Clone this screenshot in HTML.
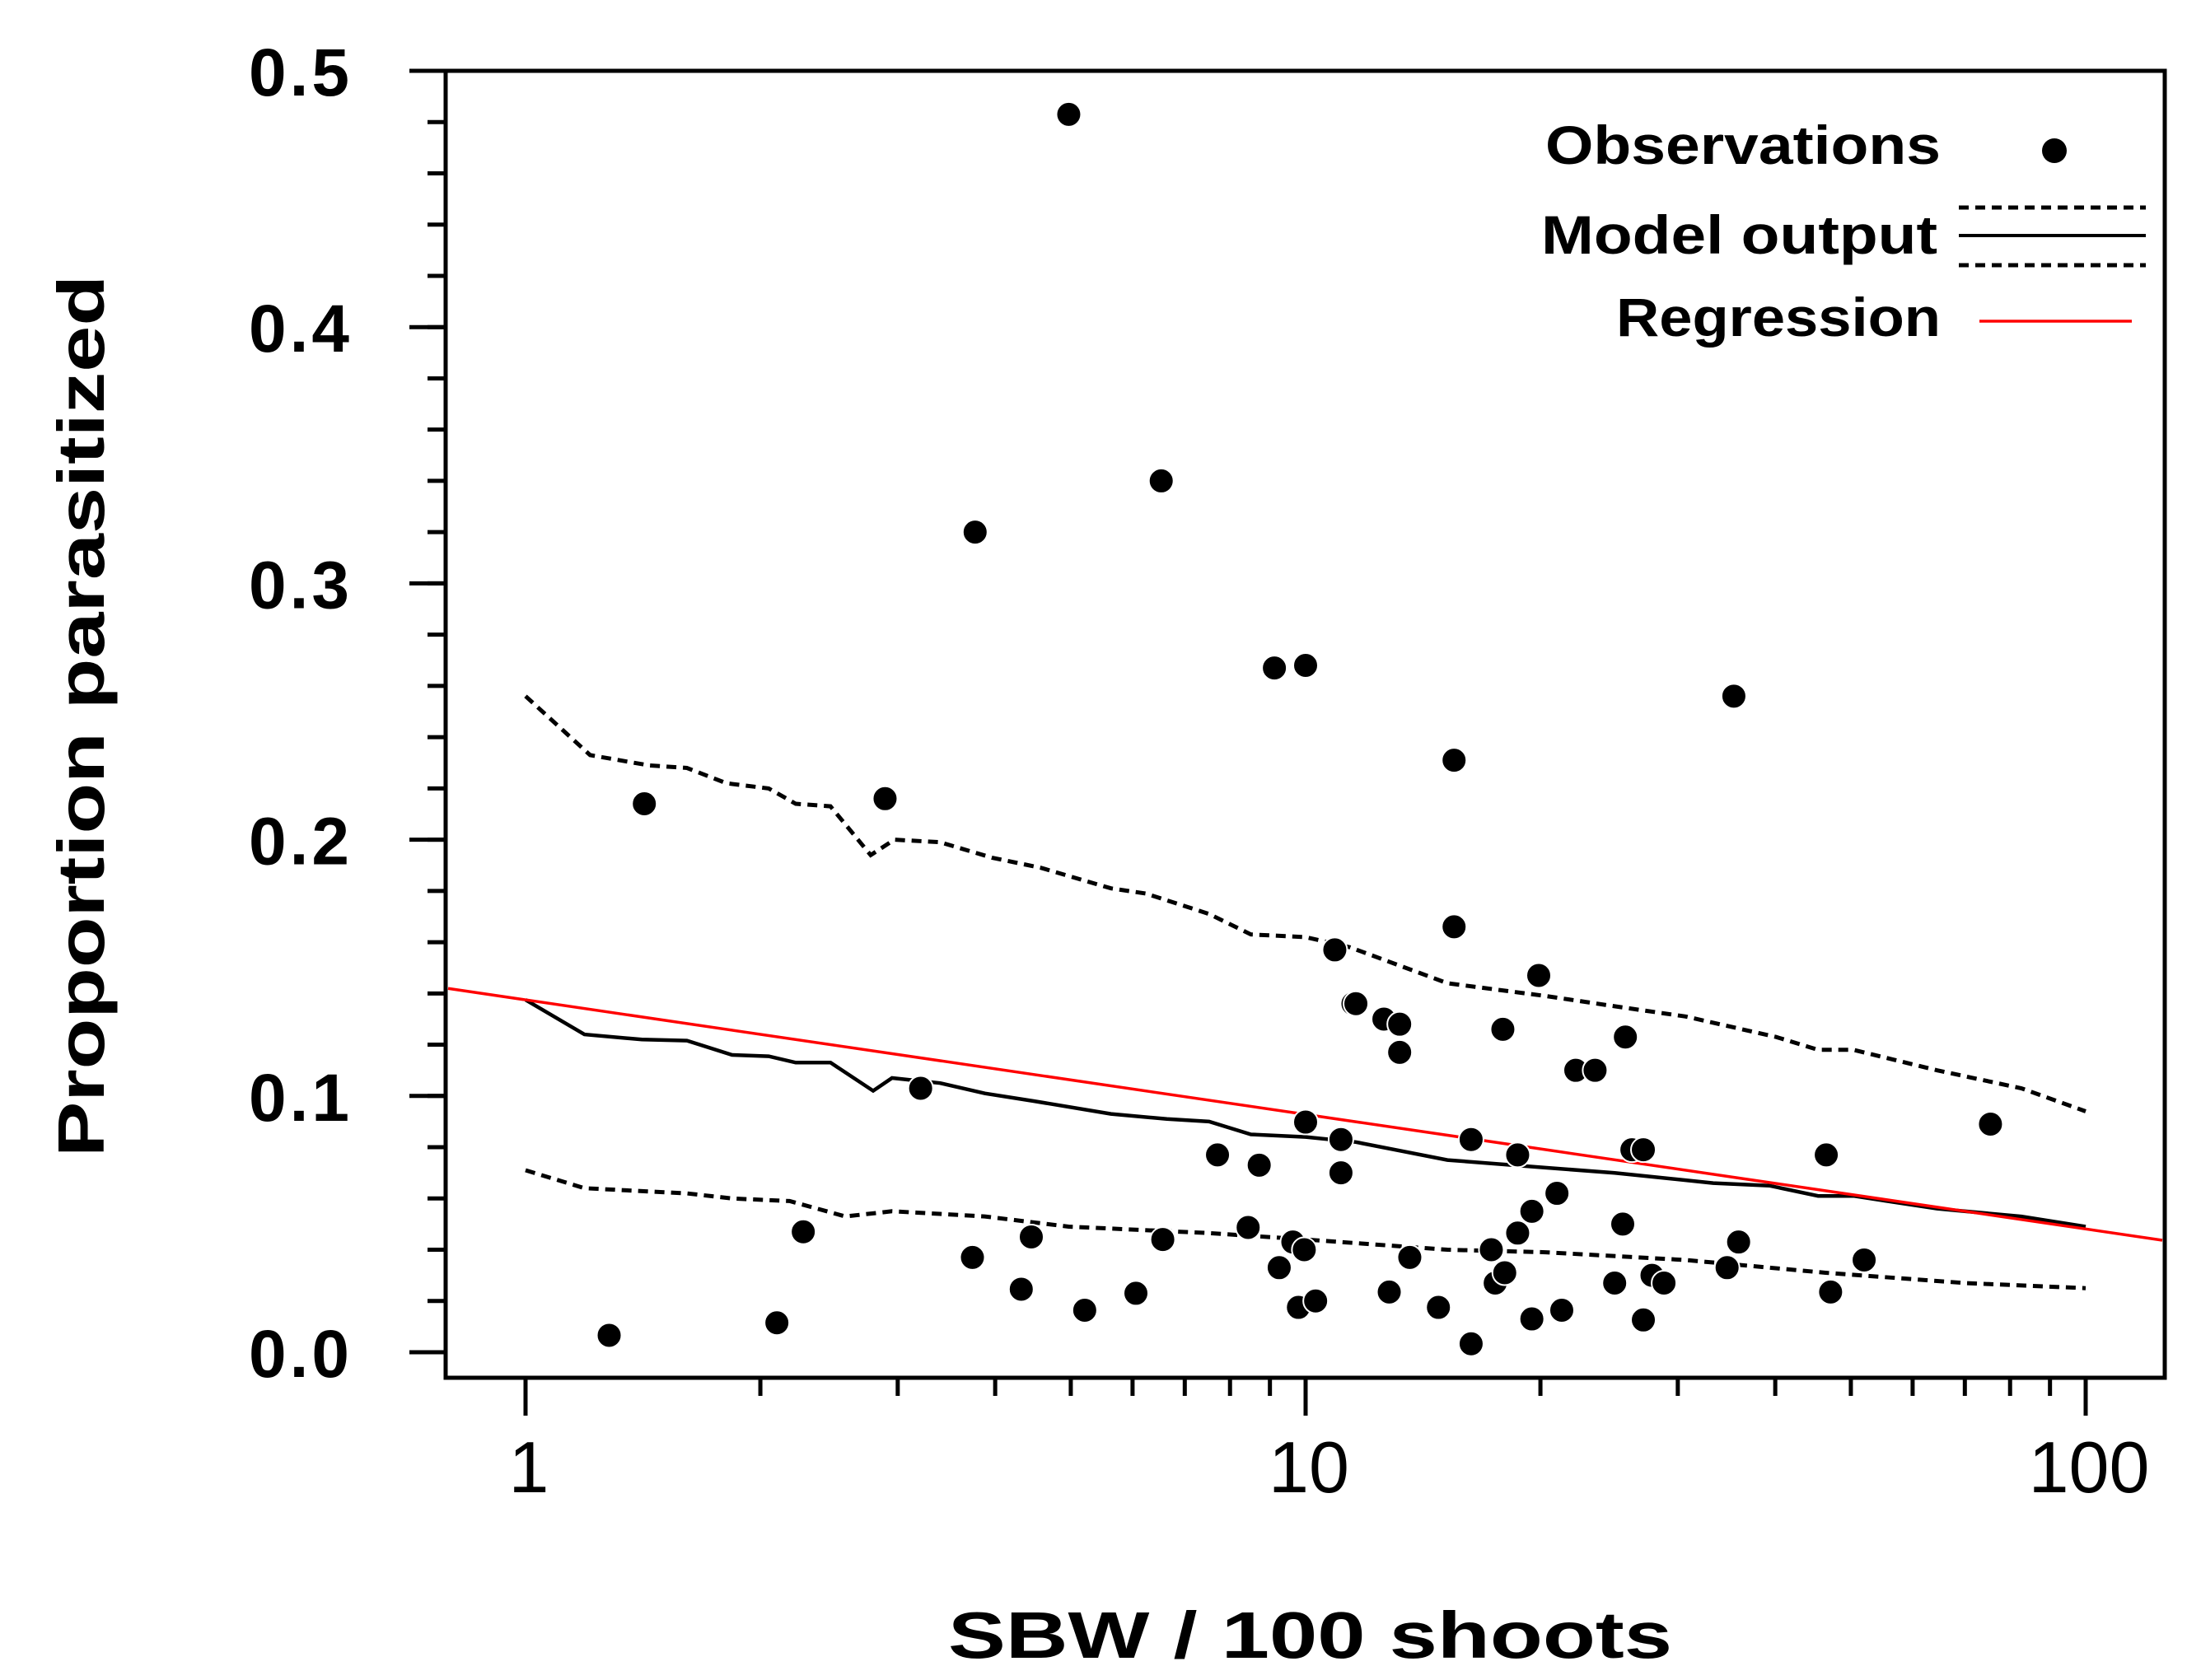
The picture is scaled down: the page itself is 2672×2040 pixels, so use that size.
<!DOCTYPE html>
<html><head><meta charset="utf-8"><style>
html,body{margin:0;padding:0;background:#fff;}
svg{display:block;}
text{font-family:"Liberation Sans",Arial,sans-serif;fill:#000;}
</style></head><body>
<svg id="chart" xmlns="http://www.w3.org/2000/svg" width="2672" height="2040" viewBox="0 0 2672 2040">
<rect width="2672" height="2040" fill="#fff"/>
<g id="axes"></g>
<g id="series"></g>
<g id="points"></g>
<g id="legend">
  <text x="1876" y="199" font-size="66" font-weight="bold" textLength="480" lengthAdjust="spacingAndGlyphs">Observations</text>
  <circle cx="2494" cy="183" r="15" fill="#000"/>
  <text x="1871" y="308" font-size="66" font-weight="bold" textLength="481" lengthAdjust="spacingAndGlyphs">Model output</text>
  <line x1="2378" y1="252" x2="2605" y2="252" stroke="#000" stroke-width="5" stroke-dasharray="12 8"/>
  <line x1="2378" y1="286" x2="2605" y2="286" stroke="#000" stroke-width="4"/>
  <line x1="2378" y1="322" x2="2605" y2="322" stroke="#000" stroke-width="5" stroke-dasharray="12 8"/>
  <text x="1962" y="408" font-size="66" font-weight="bold" textLength="394" lengthAdjust="spacingAndGlyphs">Regression</text>
  <line x1="2403" y1="390" x2="2588" y2="390" stroke="#f00" stroke-width="3.5"/>
</g>
<text x="1151" y="2013" font-size="80" font-weight="bold" textLength="879" lengthAdjust="spacingAndGlyphs">SBW / 100 shoots</text>
<text transform="translate(126,1405) rotate(-90)" x="0" y="0" font-size="80" font-weight="bold" textLength="1071" lengthAdjust="spacingAndGlyphs">Proportion parasitized</text>
</svg>
<script>
// ---- data ----
const obsX = [1.28,1.42,2.10,2.27,2.89,3.21,3.74,3.77,4.32,4.45,4.97,5.21,6.06,6.53,6.56,7.71,8.44,8.72,9.12,9.25,9.63,9.79,9.96,10.0,10.0,10.3,10.9,11.1,11.1,11.5,11.6,12.6,12.8,13.2,13.2,13.6,14.8,15.5,15.5,16.3,16.3,17.3,17.5,17.9,18.0,18.7,18.7,19.5,19.5,19.9,21.0,21.3,22.2,23.5,24.9,25.5,25.7,26.2,27.1,27.1,27.8,28.8,34.7,35.9,35.4,46.5,47.1,52.0,75.5];
const obsY = [0.0066,0.214,0.0115,0.047,0.216,0.103,0.037,0.320,0.0246,0.045,0.483,0.0164,0.023,0.340,0.044,0.077,0.0487,0.073,0.267,0.033,0.043,0.0175,0.040,0.268,0.0898,0.020,0.157,0.083,0.070,0.136,0.136,0.130,0.0235,0.128,0.117,0.037,0.0175,0.231,0.166,0.083,0.0033,0.040,0.027,0.126,0.031,0.077,0.0465,0.055,0.013,0.147,0.062,0.0164,0.110,0.110,0.027,0.050,0.123,0.079,0.079,0.0126,0.030,0.027,0.033,0.043,0.256,0.077,0.0235,0.036,0.089];
const modelX = [1,1.19,1.41,1.61,1.84,2.05,2.22,2.46,2.79,2.95,3.40,3.88,4.48,5.63,6.64,7.52,8.51,10.0,11.6,15.2,20.3,24.9,33.3,39.3,45.4,50.4,64.5,82.7,100];
const modelY = [0.1375,0.124,0.122,0.1216,0.116,0.1155,0.113,0.113,0.102,0.107,0.105,0.101,0.098,0.093,0.091,0.090,0.085,0.084,0.082,0.075,0.072,0.070,0.066,0.065,0.061,0.061,0.056,0.053,0.049];
const upperX = [1,1.21,1.44,1.61,1.81,2.05,2.22,2.46,2.77,2.97,3.40,3.96,4.58,5.63,6.24,7.52,8.51,10.0,11.4,15.2,20.3,24.9,30.7,40.1,45.4,50.4,64.5,82.7,100];
const upperY = [0.256,0.233,0.229,0.228,0.222,0.220,0.214,0.213,0.194,0.200,0.199,0.193,0.189,0.181,0.179,0.171,0.163,0.162,0.158,0.144,0.139,0.135,0.131,0.123,0.118,0.118,0.110,0.103,0.094];
const lowerX = [1,1.19,1.61,1.84,2.18,2.57,2.95,3.88,4.97,7.52,10.0,15.2,20.3,30.7,46.4,70.1,100];
const lowerY = [0.071,0.064,0.062,0.060,0.059,0.053,0.055,0.053,0.049,0.0465,0.044,0.040,0.039,0.036,0.031,0.027,0.025];
const regIntercept = 0.1375;
const regSlope = -0.0447;
const yTicks = [0.0,0.1,0.2,0.3,0.4,0.5];
const yTickLabels = ["0.0","0.1","0.2","0.3","0.4","0.5"];
const xTicks = [1,10,100];
const xTickLabels = ["1","10","100"];

// ---- scales ----
const X0 = 638, DEC = 947, Y0 = 1642, YU = 3112;
const L = 541, R = 2628, T = 86, B = 1673;
const xs = v => X0 + DEC * Math.log10(v);
const ys = v => Y0 - YU * v;
const xinv = px => Math.pow(10, (px - X0) / DEC);
const NS = "http://www.w3.org/2000/svg";
function mk(tag, attrs, parent){ const e=document.createElementNS(NS,tag); for(const k in attrs) e.setAttribute(k,attrs[k]); parent.appendChild(e); return e; }

const axes = document.getElementById('axes');
const frame = mk('rect',{x:L,y:T,width:R-L,height:B-T,fill:'none',stroke:'#000','stroke-width':5},axes);



for(let v=0; v<=0.5001; v+=0.02){
  const t = mk('line',{x1:L-22,x2:L,y1:ys(v),y2:ys(v),stroke:'#000','stroke-width':5},axes);
  
  
}
yTicks.forEach((v,i)=>{
  const t = mk('line',{x1:L-44,x2:L,y1:ys(v),y2:ys(v),stroke:'#000','stroke-width':5},axes);
  
  
  const tx = mk('text',{x:428,y:ys(v)+30,'font-size':82,'font-weight':'bold','text-anchor':'end','letter-spacing':4},axes);
  tx.textContent = yTickLabels[i];
  
  
});
for(let d=0; d<2; d++){
  for(let m=2;m<=9;m++){
    const v = Math.pow(10,d)*m;
    const t = mk('line',{x1:xs(v),x2:xs(v),y1:B,y2:B+22,stroke:'#000','stroke-width':5},axes);
    
    
  }
}
xTicks.forEach((v,i)=>{
  const t = mk('line',{x1:xs(v),x2:xs(v),y1:B,y2:B+46,stroke:'#000','stroke-width':5},axes);
  
  
  const tx = mk('text',{x:xs(v)+4,y:1812,'font-size':88,'text-anchor':'middle'},axes);
  tx.textContent = xTickLabels[i];
  
  
});

const series = document.getElementById('series');
function path(xa,ya){ return xa.map((x,i)=>(i?'L':'M')+xs(x).toFixed(1)+' '+ys(ya[i]).toFixed(1)).join(' '); }
const up = mk('path',{d:path(upperX,upperY),fill:'none',stroke:'#000','stroke-width':5,'stroke-dasharray':'12 8'},series);


const lo = mk('path',{d:path(lowerX,lowerY),fill:'none',stroke:'#000','stroke-width':5,'stroke-dasharray':'12 8'},series);


const md = mk('path',{d:path(modelX,modelY),fill:'none',stroke:'#000','stroke-width':4.5},series);


const xa = xinv(L+3), xb = xinv(R-3);
const rg = mk('line',{x1:xs(xa),y1:ys(regIntercept+regSlope*Math.log10(xa)),x2:xs(xb),y2:ys(regIntercept+regSlope*Math.log10(xb)),stroke:'#f00','stroke-width':3.5},series);



const pts = document.getElementById('points');
obsX.forEach((x,i)=>{
  const c = mk('circle',{cx:xs(x),cy:ys(obsY[i]),r:15,fill:'#000',stroke:'#fff','stroke-width':2},pts);
  
  
});
</script>
</body></html>
